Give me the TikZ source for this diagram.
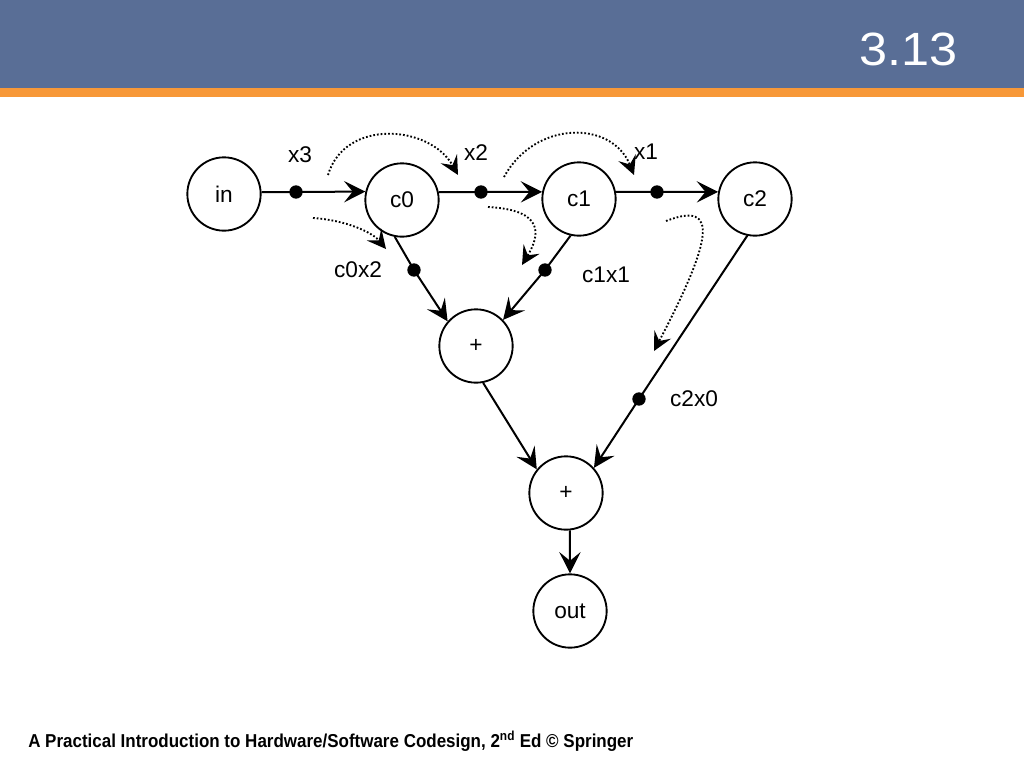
\documentclass[tikz,border=0pt]{standalone}
\usepackage{fontspec}
\usepackage{graphicx}
\setmainfont{Liberation Sans}
\usetikzlibrary{arrows.meta}
\definecolor{hdrblue}{RGB}{89,110,150}
\definecolor{hdrorange}{RGB}{247,152,56}
\begin{document}
\begin{tikzpicture}[x=0.75pt,y=-0.75pt,
  vnode/.style={circle,draw,line width=1.4pt,minimum size=55pt,inner sep=0pt,font=\fontsize{17}{20}\selectfont},
  dotnode/.style={circle,fill,inner sep=0pt,minimum size=10pt},
  edge/.style={line width=1.5pt,-{Stealth[length=16pt,width=16pt,inset=6.5pt]}},
  hint/.style={line width=1.4pt,dash pattern=on 1.3pt off 1.5pt,-{Stealth[length=14pt,width=14pt,inset=5.5pt]}},
  lbl/.style={font=\fontsize{17}{20}\selectfont,inner sep=0pt}]
\useasboundingbox (0,0) rectangle (1024,768);
% header
\fill[hdrblue] (0,0) rectangle (1024,88);
\fill[hdrorange] (0,88) rectangle (1024,97);
\node[anchor=east,text=white,font=\fontsize{35}{40}\selectfont,inner sep=0pt] (title) at (958,49) {\scalebox{1.08}[1]{3.13}};
% nodes
\node[vnode] (in) at (224,194) {in};
\node[vnode] (c0) at (402,200) {c0};
\node[vnode] (c1) at (579,199) {c1};
\node[vnode] (c2) at (755,199) {c2};
\node[vnode] (p1) at (476,346) {+};
\node[vnode] (p2) at (566,493) {+};
\node[vnode] (out) at (570,611) {out};
% dots
\node[dotnode] (d1) at (296,192) {};
\node[dotnode] (d2) at (481,192) {};
\node[dotnode] (d3) at (657,192) {};
\node[dotnode] (d4) at (414,270) {};
\node[dotnode] (d5) at (545,270) {};
\node[dotnode] (d6) at (639,399) {};
% labels
\node[lbl] (lx3) at (300,155) {x3};
\node[lbl] (lx2) at (476,153) {x2};
\node[lbl] (lx1) at (646,152) {x1};
\node[lbl] (lc0x2) at (358,270) {c0x2};
\node[lbl] (lc1x1) at (606,275) {c1x1};
\node[lbl] (lc2x0) at (694,399) {c2x0};
% edges
\draw[edge] (in.3) -- (d1.center) -- (c0.167);
\draw[edge] (c0.12) -- (d2.center) -- (c1.169);
\draw[edge] (c1.11) -- (d3.center) -- (c2.169);
\draw[edge] (c0.-101) -- (d4.center) -- (p1.139);
\draw[edge] (c1.-103) -- (d5.center) -- (p1.44);
\draw[edge] (c2.-102) -- (d6.center) -- (p2.42);
\draw[edge] (p1.-79) -- (p2.141);
\draw[edge] (p2.-84) -- (out.north);
% dotted hints
\coordinate (h1s) at (328,175);
\coordinate (h1e) at (458,175);
\draw[hint] (h1s) .. controls (345,118) and (430,125) .. (h1e);
\coordinate (h2s) at (313,218);
\coordinate (h2e) at (386,249);
\draw[hint] (h2s) .. controls (345,220) and (372,232) .. (h2e);
\coordinate (h3s) at (504,177);
\coordinate (h3e) at (634,175);
\draw[hint] (h3s) .. controls (535,120) and (612,120) .. (h3e);
\coordinate (h4s) at (488,207);
\coordinate (h4e) at (522,265);
\draw[hint] (h4s) .. controls (545,210) and (540,235) .. (h4e);
\coordinate (h5s) at (666,221);
\coordinate (h5e) at (654,351);
\draw[hint] (h5s) .. controls (720,200) and (712,240) .. (h5e);
% footer
\node[anchor=west,inner sep=0pt] (foot) at (28,741) {\resizebox{453.75pt}{\height}{\fontsize{14}{16}\selectfont\bfseries A Practical Introduction to Hardware/Software Codesign, 2\textsuperscript{nd} Ed \textcopyright{} Springer}};
\end{tikzpicture}
\end{document}
